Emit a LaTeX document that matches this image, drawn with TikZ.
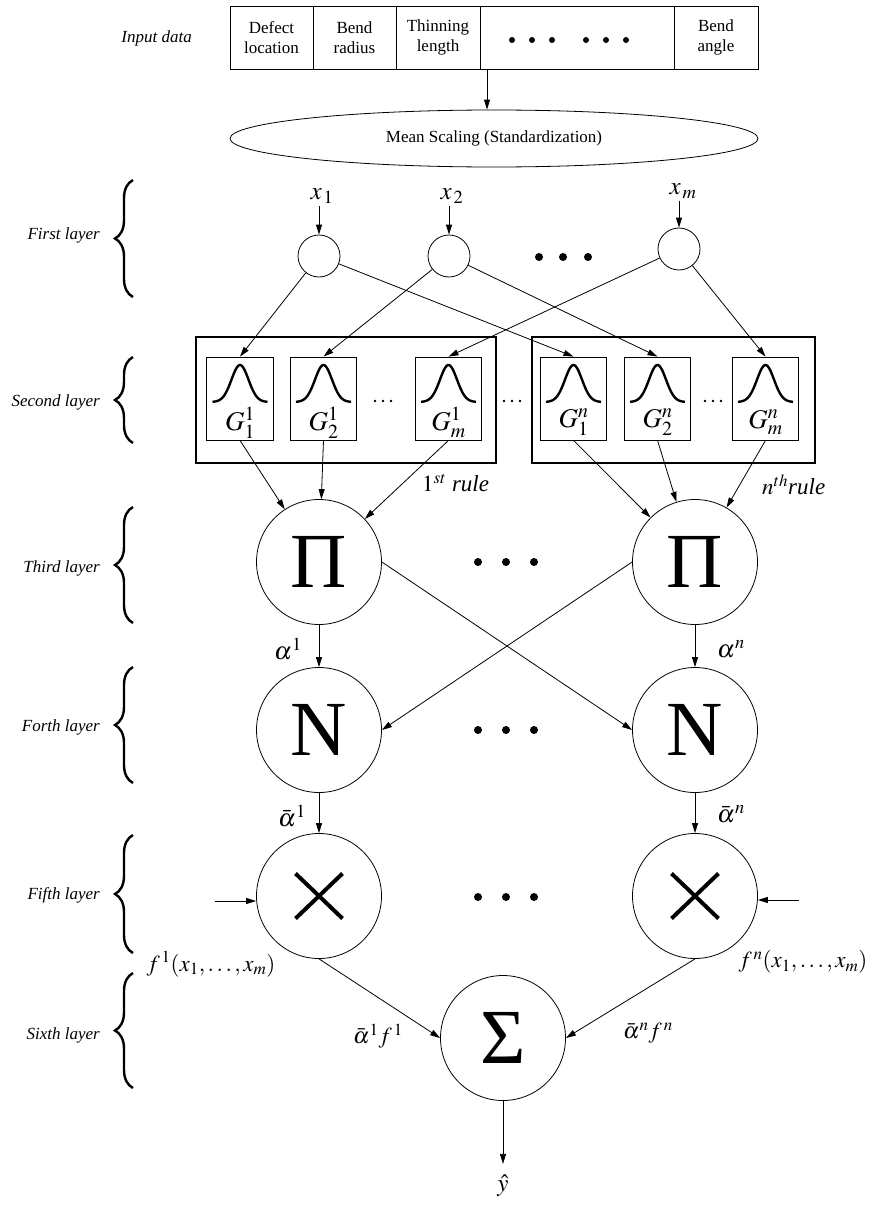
\documentclass[tikz,border=0pt]{standalone}
\usepackage{mathptmx}
\usepackage{fontspec}
\setmainfont{Liberation Serif}
\usetikzlibrary{arrows.meta,shapes.geometric,decorations.pathreplacing,calc}

\begin{document}
\begin{tikzpicture}[x=1pt,y=-1pt,
  arr/.style={-{Triangle[length=10pt,width=6pt]}, line width=0.8pt},
  lay/.style={anchor=east, inner sep=0pt, font=\fontsize{17}{20}\selectfont\itshape},
  cell/.style={draw, line width=0.8pt, minimum height=63pt, inner sep=0pt, align=center,
    font=\fontsize{17}{20}\selectfont},
  smallc/.style={circle, draw, line width=0.8pt, minimum size=42pt, inner sep=0pt},
  bigc/.style={circle, draw, line width=0.8pt, minimum size=125pt, inner sep=0pt,
    font=\fontsize{78}{78}\selectfont},
  gbox/.style={draw, line width=0.8pt, minimum width=66.5pt, minimum height=83pt, inner sep=0pt},
  rulebox/.style={draw, line width=2.8pt, minimum height=126pt, inner sep=0pt},
  bell/.style={line width=2.4pt},
  brc/.style={decorate, decoration={brace, amplitude=18pt}, line width=2.4pt},
  mlab/.style={inner sep=2pt, font=\fontsize{25}{25}\selectfont},
  glab/.style={inner sep=0pt, font=\fontsize{27}{27}\selectfont},
  flab/.style={inner sep=0pt, font=\fontsize{23}{23}\selectfont},
  cross/.style={line width=4pt}
]
\useasboundingbox (0,0) rectangle (873,1207);

% ---- input data row ----
\node[lay] (inlab) at (192,38) {Input data};
\node[cell, minimum width=83pt] (inA) at (271.5,37.5) {Defect\\location};
\node[cell, minimum width=83pt] (inB) at (354.5,37.5) {Bend\\radius};
\node[cell, minimum width=84pt] (inC) at (438,37.5) {Thinning\\length};
\node[cell, minimum width=194pt] (inD) at (577,37.5) {};
\node[cell, minimum width=84pt] (inE) at (716,37.5) {Bend\\angle};
\foreach \dx in {512,532,552,586,606,626} \fill (\dx,40) circle (3);

\node[ellipse, draw, line width=0.8pt, minimum width=528pt, minimum height=57pt,
  font=\fontsize{17}{20}\selectfont] (scal) at (494,138.5) {Mean Scaling (Standardization)};
\coordinate (boxout) at (487,69);
\draw[arr] (boxout) -- (boxout |- scal.north);

% ---- layer names and braces ----
\foreach \i/\t/\y/\a/\b in {1/First layer/235/180/297, 2/Second layer/402/357/443,
  3/Third layer/568/507/623, 4/Forth layer/727/667/783, 5/Fifth layer/895/835/953,
  6/Sixth layer/1035/973/1088}{
  \node[lay] (layer\i) at (100,\y) {\t};
  \draw[brc] (133,\b) -- (133,\a);
}

% ---- first layer ----
\node[smallc] (c1) at (319,256) {};
\node[smallc] (c2) at (449,256) {};
\node[smallc] (cm) at (679,249) {};
\node[mlab] (lx1) at (322,196) {$x_{\,1}$};
\node[mlab] (lx2) at (452,196) {$x_{\,2}$};
\node[mlab] (lxm) at (683,191) {$x_{\,m}$};
\draw[arr] (lx1.south -| c1.north) -- (c1.north);
\draw[arr] (lx2.south -| c2.north) -- (c2.north);
\draw[arr] (lxm.south -| cm.north) -- (cm.north);
\foreach \dx in {539,563,588} \fill (\dx,257) circle (4);

% ---- second layer: membership functions ----
\node[rulebox, minimum width=300pt] (r1) at (346,400) {};
\node[rulebox, minimum width=283pt] (r2) at (673.5,400) {};
\foreach \n/\cx/\sb/\sp in {g11/240/1/1, g21/323.5/2/1, gm1/448.5/m/1,
  g1n/573.5/1/n, g2n/657.5/2/n, gmn/765.5/m/n}{
  \node[gbox] (\n) at (\cx,398.5) {};
  \draw[bell, shift={(\n.center)}] plot[domain=-27.5:27.5, samples=60, smooth]
    (\x, {3.5-37*exp(-(\x*\x)/144)});
  \node[glab] (\n lab) at ($(\n.center)+(0,24)$) {$G^{\sp}_{\sb}$};
}
\foreach \cx in {383,512,713} \foreach \dx in {-8,0,8} \fill (\cx+\dx,401) circle (1.3);
\node[flab, anchor=west] (rule1) at (422,483) {$1^{st}$ \textit{rule}};
\node[flab, anchor=west] (rulen) at (762,485) {$n^{th}$\textit{rule}};

\draw[arr] (c1) -- (g11.north);
\draw[arr] (c1) -- (g1n.north);
\draw[arr] (c2) -- (g21.north);
\draw[arr] (c2) -- (g2n.north);
\draw[arr] (cm) -- (gm1.north);
\draw[arr] (cm) -- (gmn.north);

% ---- third layer: product ----
\node[bigc] (p1) at (319,562) {Π};
\node[bigc] (pn) at (695,562) {Π};
\draw[arr] (g11.south) -- (p1);
\draw[arr] (g21.south) -- (p1);
\draw[arr] (gm1.south) -- (p1);
\draw[arr] (g1n.south) -- (pn);
\draw[arr] (g2n.south) -- (pn);
\draw[arr] (gmn.south) -- (pn);
\foreach \dx in {478,506,534} \fill (\dx,562) circle (4);

% ---- fourth layer: normalisation ----
\node[bigc] (n1) at (319,730) {N};
\node[bigc] (nn) at (695,730) {N};
\draw[arr] (p1) -- (n1);
\draw[arr] (pn) -- (nn);
\draw[arr] (p1.east) -- (nn.west);
\draw[arr] (pn.west) -- (n1.east);
\node[mlab] (al1) at (288,649) {$\alpha^1$};
\node[mlab] (aln) at (731,649) {$\alpha^n$};
\foreach \dx in {478,506,534} \fill (\dx,730) circle (4);

% ---- fifth layer: consequent product ----
\node[bigc] (xa) at (319,896) {};
\node[bigc] (xb) at (695,896) {};
\foreach \n in {xa,xb}{
  \draw[cross] ($(\n.center)+(-23.5,-22.5)$) -- ($(\n.center)+(23.5,22.5)$);
  \draw[cross] ($(\n.center)+(-23.5,22.5)$) -- ($(\n.center)+(23.5,-22.5)$);
}
\draw[arr] (n1) -- (xa);
\draw[arr] (nn) -- (xb);
\node[mlab] (ab1) at (292,816) {$\bar{\alpha}^1$};
\node[mlab] (abn) at (731,814) {$\bar{\alpha}^n$};
\coordinate (fin1) at (215,901);
\coordinate (fin2) at (799,900);
\draw[arr] (fin1) -- (fin1 -| xa.west);
\draw[arr] (fin2) -- (fin2 -| xb.east);
\node[flab] (f1) at (211,964) {$f^{\,1}(x_1, \ldots, x_m)$};
\node[flab] (fn) at (803,962) {$f^{\,n}(x_1, \ldots, x_m)$};
\foreach \dx in {478,506,534} \fill (\dx,897) circle (4);

% ---- sixth layer: summation ----
\node[bigc] (sig) at (503,1038) {Σ};
\draw[arr] (xa.south) -- (sig.west);
\draw[arr] (xb.south) -- (sig.east);
\node[flab] (w1) at (378,1036) {$\bar{\alpha}^1 f^{\,1}$};
\node[flab] (wn) at (648,1033) {$\bar{\alpha}^n f^{\,n}$};
\node[mlab] (yhat) at (503,1186) {$\hat{y}$};
\draw[arr, shorten >=9pt] (sig) -- (yhat);
\end{tikzpicture}
\end{document}
